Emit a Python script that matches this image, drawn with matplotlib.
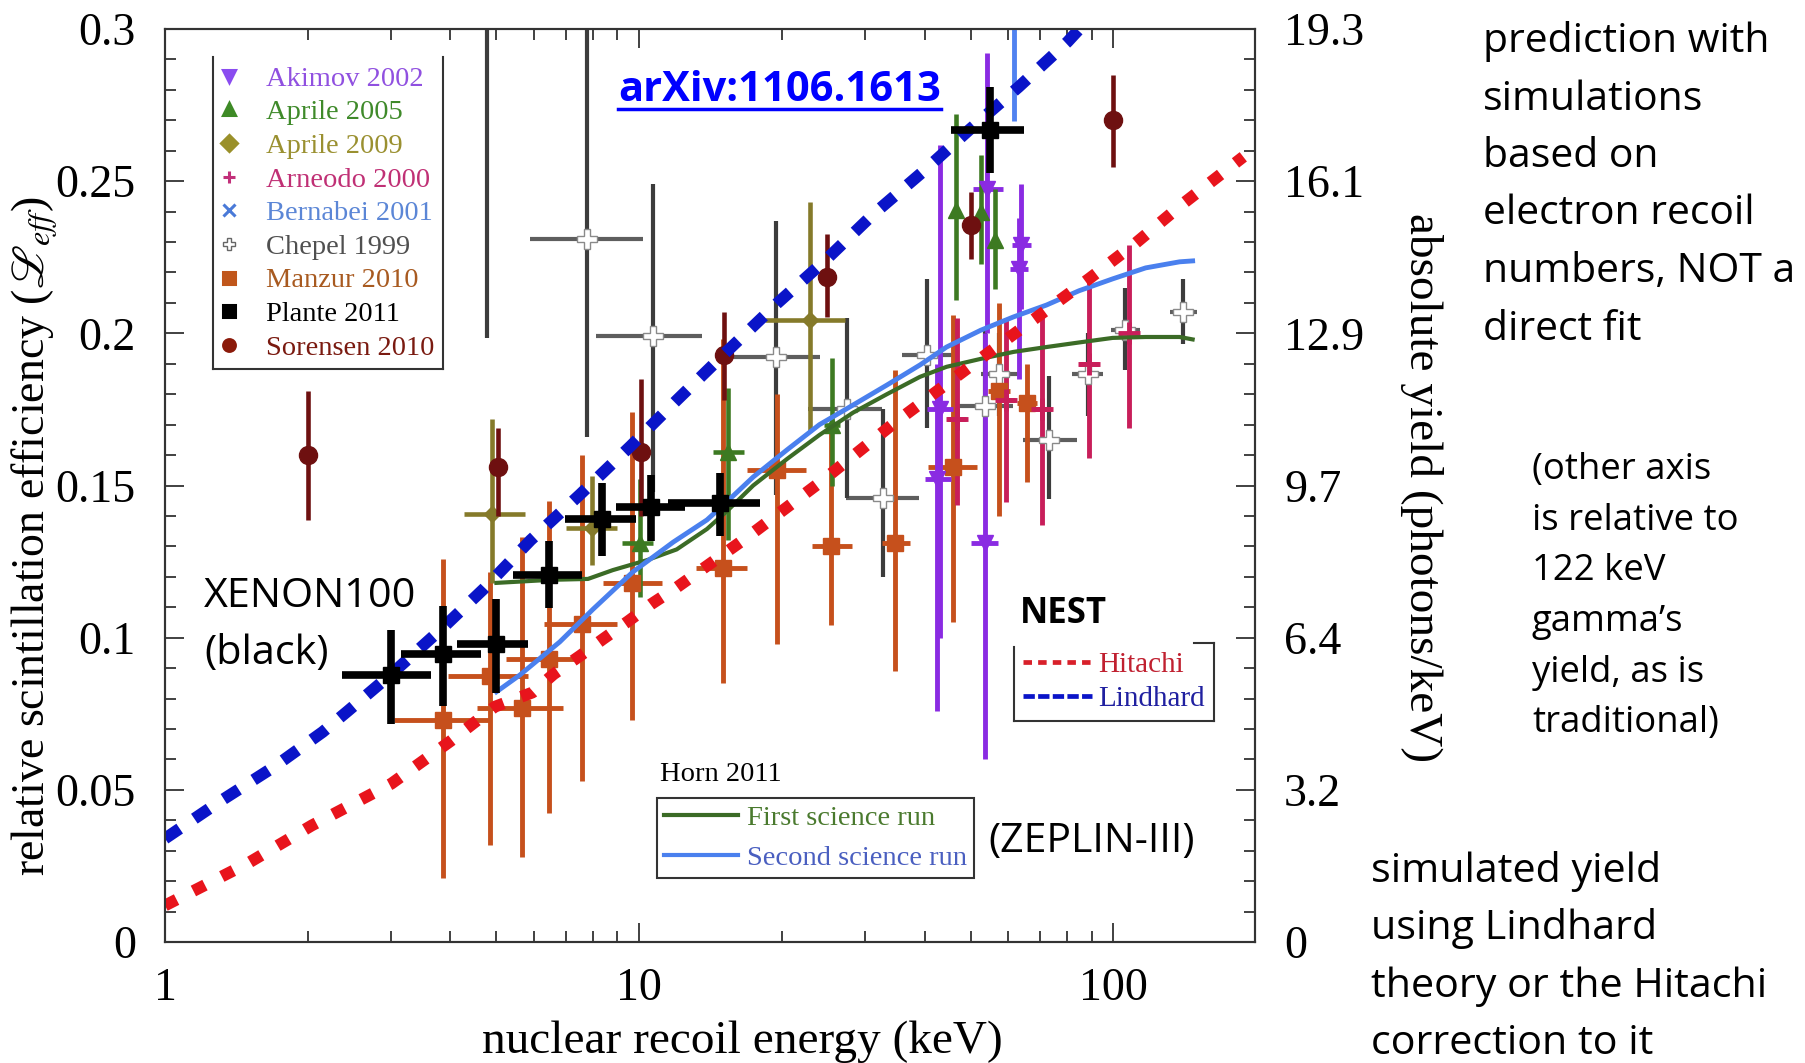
import numpy as np
import matplotlib.pyplot as plt
from matplotlib.lines import Line2D
from matplotlib.ticker import MultipleLocator, FixedLocator, NullFormatter

plt.rcParams['font.family'] = ['Liberation Serif', 'DejaVu Serif']
plt.rcParams['mathtext.fontset'] = 'stix'

W, H = 1806, 1063
SANS = ['Open Sans', 'DejaVu Sans']

# energies in keV, Leff values, lower / upper ends of the error bars

# Plante 2011 (XENON100)
plante_e = [3.0, 3.86, 4.98, 6.47, 8.35, 10.6, 14.8, 55.0]
plante_l = [0.0877, 0.0947, 0.0978, 0.1205, 0.1389, 0.1428, 0.1441, 0.2668]
plante_lo = [0.0717, 0.0777, 0.0819, 0.1097, 0.1267, 0.1316, 0.1335, 0.2527]
plante_hi = [0.1026, 0.1104, 0.1128, 0.1319, 0.1508, 0.1536, 0.154, 0.281]
plante_elo = [2.36, 3.14, 4.12, 5.41, 6.98, 8.95, 11.5, 45.5]
plante_ehi = [3.64, 4.65, 5.84, 7.57, 9.83, 12.5, 18.0, 64.9]

# Manzur 2010
manzur_e = [3.86, 4.85, 5.67, 6.47, 7.58, 9.66, 15.0, 19.5, 25.4, 34.6, 45.9, 57.5, 65.7]
manzur_l = [0.073, 0.0875, 0.077, 0.093, 0.1045, 0.118, 0.123, 0.155, 0.130, 0.131, 0.156, 0.181, 0.177]
manzur_lo = [0.021, 0.032, 0.028, 0.0425, 0.053, 0.073, 0.085, 0.098, 0.104, 0.089, 0.105, 0.14, 0.151]
manzur_hi = [0.126, 0.1215, 0.133, 0.145, 0.160, 0.174, 0.198, 0.18, 0.17, 0.188, 0.206, 0.21, 0.19]
manzur_elo = [3.04, 3.95, 4.54, 5.24, 6.3, 8.4, 13.2, 16.9, 23.2, 32.6, 40.6, 54.5, 62.5]
manzur_ehi = [4.85, 5.84, 6.9, 7.35, 8.97, 11.2, 16.9, 22.5, 28.1, 37.2, 51.5, 60.5, 69.0]

# Sorensen 2010
sorensen_e = [2.0, 5.03, 10.1, 15.1, 24.9, 50.1, 99.8]
sorensen_l = [0.160, 0.156, 0.161, 0.193, 0.2185, 0.2356, 0.270]
sorensen_lo = [0.1385, 0.140, 0.140, 0.178, 0.2054, 0.2245, 0.2547]
sorensen_hi = [0.181, 0.169, 0.185, 0.207, 0.2327, 0.2465, 0.285]

# Chepel 1999
chepel_e = [4.77, 7.78, 10.7, 19.4, 27.4, 32.7, 40.4, 53.6, 57.5, 73.2, 88.4, 105.6, 140]
chepel_l = [0.33, 0.231, 0.199, 0.1922, 0.175, 0.146, 0.193, 0.176, 0.1867, 0.165, 0.1867, 0.201, 0.207]
chepel_lo = [0.1986, 0.166, 0.148, 0.147, 0.146, 0.120, 0.169, 0.155, 0.173, 0.1456, 0.173, 0.188, 0.1966]
chepel_hi = [0.34, 0.31, 0.249, 0.237, 0.205, 0.175, 0.218, 0.202, 0.200, 0.186, 0.200, 0.215, 0.218]
chepel_elo = [4.77, 5.9, 8.1, 15.7, 22.7, 27.3, 35.9, 47.0, 52.7, 64.5, 82.0, 99.0, 132]
chepel_ehi = [4.77, 10.2, 13.6, 24.1, 32.6, 39.0, 45.6, 61.5, 63.2, 83.8, 95.2, 114, 150]

# Akimov 2002
akimov_e = [42.4, 43.1, 53.6, 54.2, 63.2, 64.0]
akimov_l = [0.152, 0.175, 0.131, 0.2475, 0.221, 0.229]
akimov_lo = [0.076, 0.10, 0.06, 0.20, 0.185, 0.208]
akimov_hi = [0.19, 0.262, 0.20, 0.292, 0.238, 0.249]
akimov_elo = [40.0, 40.5, 50.0, 50.5, 60.5, 61.0]
akimov_ehi = [45.5, 46.0, 57.0, 58.4, 66.0, 67.0]

# Aprile 2005
aprile05_e = [10.05, 15.4, 25.5, 46.6, 52.5, 56.4]
aprile05_l = [0.131, 0.161, 0.170, 0.2405, 0.240, 0.2307]
aprile05_lo = [0.1135, 0.132, 0.150, 0.211, 0.2228, 0.2146]
aprile05_hi = [0.152, 0.182, 0.192, 0.272, 0.2586, 0.2475]
aprile05_elo = [9.2, 14.3, 24.5, 46.6, 52.5, 56.4]
aprile05_ehi = [10.7, 16.6, 26.5, 46.6, 52.5, 56.4]

# Aprile 2009
aprile09_e = [4.9, 7.95, 22.9]
aprile09_l = [0.1407, 0.136, 0.2044]
aprile09_lo = [0.118, 0.124, 0.1676]
aprile09_hi = [0.172, 0.153, 0.243]
aprile09_elo = [4.28, 7.0, 18.4]
aprile09_ehi = [5.75, 8.97, 27.2]

# Arneodo 2000
arneodo_e = [46.7, 59.3, 70.8, 89.0, 108]
arneodo_l = [0.172, 0.178, 0.175, 0.19, 0.200]
arneodo_lo = [0.1436, 0.1446, 0.137, 0.159, 0.169]
arneodo_hi = [0.205, 0.205, 0.207, 0.219, 0.229]
arneodo_elo = [44.5, 56.5, 67.5, 84.5, 103]
arneodo_ehi = [49.0, 62.0, 74.0, 93.5, 113]

# Bernabei 2001 (point above the frame, only the bar shows)
bernabei_e = [61.6]
bernabei_l = [0.33]
bernabei_lo = [0.2697]
bernabei_hi = [0.34]

# NEST predictions
hitachi_e = [1, 1.5, 2.04, 3.0, 4.0, 4.96, 5.96, 6.6, 7.5, 8.4, 9.5, 10.6, 12.0, 16.9,
             24.3, 34.5, 55.5, 62, 89, 111, 140, 188]
hitachi_l = [0.012, 0.026, 0.0383, 0.052, 0.066, 0.0773, 0.082, 0.088, 0.094, 0.0996, 0.1055,
             0.111, 0.1165, 0.133, 0.1515, 0.1705, 0.1945, 0.200, 0.218, 0.2294, 0.2425, 0.258]
lindhard_e = [1, 1.3, 1.7, 2.15, 2.43, 3.0, 3.9, 4.7, 5.9, 7.5, 9.6, 12, 15.3, 19.5, 24.9,
              31.1, 39.6, 49.8, 63.2, 80.1, 86]
lindhard_l = [0.034, 0.046, 0.0576, 0.069, 0.0759, 0.088, 0.104, 0.116, 0.132, 0.147, 0.163,
              0.178, 0.194, 0.2097, 0.2245, 0.239, 0.253, 0.267, 0.281, 0.2958, 0.301]

# Horn 2011 (ZEPLIN-III)
horn1_e = [5.0, 6.5, 7.8, 8.8, 10.4, 12.0, 13.9, 15.3, 17.4, 20.5, 24.0, 28.3, 33.3, 39.1,
           44.5, 52.5, 61.6, 72.3, 84.7, 99.7, 117, 138, 147]
horn1_l = [0.118, 0.119, 0.1193, 0.1222, 0.1255, 0.129, 0.1357, 0.1415, 0.150, 0.1587, 0.1666,
           0.174, 0.180, 0.1857, 0.189, 0.1916, 0.1939, 0.1955, 0.197, 0.1985, 0.1988, 0.1988, 0.198]
horn2_e = [5.0, 5.6, 6.8, 8.0, 9.7, 11.8, 13.9, 15.3, 17.4, 20.5, 24.0, 28.3, 33.3, 39.1,
           44.5, 52.5, 61.6, 72.3, 84.7, 99.7, 117, 138, 147]
horn2_l = [0.0822, 0.0877, 0.0986, 0.1094, 0.1216, 0.1314, 0.1387, 0.1446, 0.1528, 0.1617, 0.170,
           0.1765, 0.183, 0.1896, 0.1955, 0.201, 0.2054, 0.2093, 0.214, 0.2179, 0.2215, 0.2235, 0.2238]

xticks = [1, 10, 100]
xtick_labels = ['1', '10', '100']
yticks = [0, 0.05, 0.1, 0.15, 0.2, 0.25, 0.3]
left_labels = ['0', '0.05', '0.1', '0.15', '0.2', '0.25', '0.3']
right_labels = ['0', '3.2', '6.4', '9.7', '12.9', '16.1', '19.3']


def errs(c, lo, hi):
    c = np.asarray(c, float)
    return [c - np.asarray(lo, float), np.asarray(hi, float) - c]


fig = plt.figure(figsize=(W / 100, H / 100), dpi=100)
ax = fig.add_axes([165 / W, 1 - 942 / H, 1090 / W, 913 / H])
ax.set_xscale('log')

# data sets
ax.errorbar(chepel_e, chepel_l, xerr=errs(chepel_e, chepel_elo, chepel_ehi), fmt='none',
            ecolor='#5e5e5e', elinewidth=3, zorder=2)
ax.errorbar(chepel_e, chepel_l, yerr=errs(chepel_l, chepel_lo, chepel_hi), fmt='P',
            color='#3c3c3c', mfc='white', mec='#8a8a8a', mew=1, ms=14, elinewidth=3, zorder=3)
ax.errorbar(manzur_e, manzur_l, yerr=errs(manzur_l, manzur_lo, manzur_hi),
            xerr=errs(manzur_e, manzur_elo, manzur_ehi), fmt='s', color='#c6501c', ms=11,
            elinewidth=3.5, zorder=3)
ax.errorbar(akimov_e, akimov_l, yerr=errs(akimov_l, akimov_lo, akimov_hi),
            xerr=errs(akimov_e, akimov_elo, akimov_ehi), fmt='v', color='#8a2be2', ms=12,
            elinewidth=3.5, zorder=3)
ax.errorbar(aprile05_e, aprile05_l, yerr=errs(aprile05_l, aprile05_lo, aprile05_hi),
            xerr=errs(aprile05_e, aprile05_elo, aprile05_ehi), fmt='^', color='#3d7a22', ms=12,
            elinewidth=3.3, zorder=3)
ax.errorbar(aprile09_e, aprile09_l, yerr=errs(aprile09_l, aprile09_lo, aprile09_hi),
            xerr=errs(aprile09_e, aprile09_elo, aprile09_ehi), fmt='D', color='#857a2a', ms=8,
            elinewidth=3.3, zorder=3)
ax.errorbar(arneodo_e, arneodo_l, yerr=errs(arneodo_l, arneodo_lo, arneodo_hi),
            xerr=errs(arneodo_e, arneodo_elo, arneodo_ehi), fmt='+', color='#c81e5a', ms=16,
            mew=3.5, elinewidth=3.5, zorder=3)
ax.errorbar(sorensen_e, sorensen_l, yerr=errs(sorensen_l, sorensen_lo, sorensen_hi), fmt='o',
            color='#6e1010', ms=13, elinewidth=3.3, zorder=4)
ax.errorbar(bernabei_e, bernabei_l, yerr=errs(bernabei_l, bernabei_lo, bernabei_hi), fmt='x',
            color='#5082f0', ms=12, elinewidth=3.5, zorder=4)

# curves
ax.plot(horn1_e, horn1_l, color='#3b6b26', lw=3, zorder=5)
ax.plot(horn2_e, horn2_l, color='#4a80ee', lw=3.5, zorder=5)
ax.plot(hitachi_e, hitachi_l, color='#e8141c', lw=8.5, ls=(0, (1.1, 1.6)),
        dash_capstyle='butt', zorder=6)
ax.plot(lindhard_e, lindhard_l, color='#0a14c8', lw=8.5, ls=(0, (1.5, 1.5)),
        dash_capstyle='butt', zorder=6)

ax.errorbar(plante_e, plante_l, yerr=errs(plante_l, plante_lo, plante_hi),
            xerr=errs(plante_e, plante_elo, plante_ehi), fmt='s', color='black', ms=12,
            elinewidth=5.5, zorder=8)

# axes
ax.set_xlim(1, 199)
ax.set_ylim(0, 0.3)
ax.xaxis.set_major_locator(FixedLocator(xticks))
ax.set_xticklabels(xtick_labels)
ax.xaxis.set_minor_formatter(NullFormatter())
ax.set_yticks(yticks)
ax.set_yticklabels(left_labels)
ax.yaxis.set_minor_locator(MultipleLocator(0.01))

ax2 = ax.twinx()
ax2.set_ylim(0, 0.3)
ax2.set_yticks(yticks)
ax2.set_yticklabels(right_labels)
ax2.yaxis.set_minor_locator(MultipleLocator(0.01))

for a in (ax, ax2):
    a.tick_params(which='both', direction='in', color='#333333', width=1.3)
    a.tick_params(which='major', length=13.5, labelsize=33)
    a.tick_params(which='minor', length=8)
    for s in a.spines.values():
        s.set_color('#333333')
        s.set_linewidth(1.5)
ax.tick_params(axis='x', which='both', top=True, pad=18)
ax.tick_params(axis='y', pad=21)
ax2.tick_params(axis='y', pad=21)

ax.set_xlabel('nuclear recoil energy (keV)', fontsize=34)
ax.xaxis.set_label_coords(0.530, -0.1095)
ax.xaxis.label.set_va('center')
ax.set_ylabel(r'relative scintillation efficiency ($\mathscr{L}_{eff}$)', fontsize=33)
ax.yaxis.set_label_coords(-0.1193, 0.4447)
ax.yaxis.label.set_va('center')
ax2.set_ylabel('absolute yield (photons/keV)', fontsize=34, rotation=270)
ax2.yaxis.set_label_coords(1.1532, 0.498)
ax2.yaxis.label.set_va('center')

# legend of data sets
leg_labels = ['Akimov 2002', 'Aprile 2005', 'Aprile 2009', 'Arneodo 2000', 'Bernabei 2001',
              'Chepel 1999', 'Manzur 2010', 'Plante 2011', 'Sorensen 2010']
leg_markers = ['v', '^', 'D', '+', 'x', 'P', 's', 's', 'o']
leg_colors = ['#8a4cf0', '#3e8a26', '#9a902a', '#c2307a', '#4a7ad8', '#ffffff', '#c0561b',
              '#000000', '#8b1a0a']
leg_text = ['#9050e0', '#3f8a2a', '#9a9030', '#c03075', '#5b86d6', '#505050', '#a85a20',
            '#000000', '#7a1a10']
handles = []
for m, c in zip(leg_markers, leg_colors):
    handles.append(Line2D([], [], ls='none', marker=m, color=c, mec='#666666' if m == 'P' else c,
                          mew=1 if m == 'P' else 2.2, ms=8.5))
leg1 = ax.legend(handles, leg_labels, loc='upper left', bbox_to_anchor=(0.044, 0.969),
                 borderaxespad=0, fontsize=20.5, handlelength=0.5, handletextpad=1.05,
                 labelspacing=0.27, borderpad=0.3, fancybox=False)
leg1.get_frame().set_edgecolor('none')
leg1.get_frame().set_facecolor('none')
for t, c in zip(leg1.get_texts(), leg_text):
    t.set_color(c)
ax.add_artist(leg1)

nest_handles = [Line2D([], [], color='#d8202a', lw=3.4, ls=(0, (1.8, 1.3))),
                Line2D([], [], color='#0a14c8', lw=3.4, ls=(0, (2.4, 0.7)))]
leg2 = ax.legend(nest_handles, ['Hitachi', 'Lindhard'], loc='upper left',
                 bbox_to_anchor=(0.7789, 0.3275), borderaxespad=0, fontsize=21,
                 handlelength=2.36, handletextpad=0.24, labelspacing=0.25, borderpad=0.3,
                 fancybox=False)
leg2.get_frame().set_edgecolor('none')
leg2.get_frame().set_facecolor('none')
for t, c in zip(leg2.get_texts(), ['#c02030', '#2020a0']):
    t.set_color(c)
ax.add_artist(leg2)

horn_handles = [Line2D([], [], color='#3b6b26', lw=3), Line2D([], [], color='#4a80ee', lw=3)]
leg3 = ax.legend(horn_handles, ['First science run', 'Second science run'], loc='upper left',
                 bbox_to_anchor=(0.4514, 0.1577), borderaxespad=0, fontsize=20.5,
                 handlelength=2.6, handletextpad=0.3, labelspacing=0.5, borderpad=0.25,
                 fancybox=False, edgecolor='#333333', framealpha=1)
leg3.get_frame().set_linewidth(1.5)
for t, c in zip(leg3.get_texts(), ['#4a7a2e', '#4a5fc0']):
    t.set_color(c)

# annotations
def put(s, x, y, size, **kw):
    return fig.text(x / W, 1 - y / H, s, fontsize=size, va='baseline', ha='left', **kw)


def block(lines, x, y0, step, size, **kw):
    for i, s in enumerate(lines):
        put(s, x, y0 + i * step, size, family=SANS, **kw)


put('Horn 2011', 660, 781, 20.5)
arx = put('arXiv:1106.1613', 618, 101, 30, family=SANS, weight='bold', color='#0000ff')
block(['XENON100', '(black)'], 204, 607, 57, 29.8)
put('NEST', 1020, 623, 25, family=SANS, weight='bold')
put('(ZEPLIN-III)', 988, 852, 29.5, family=SANS)
block(['prediction with', 'simulations', 'based on', 'electron recoil', 'numbers, NOT a',
       'direct fit'], 1483, 52, 57.5, 29.4)
block(['(other axis', 'is relative to', '122 keV', 'gamma\u2019s', 'yield, as is',
       'traditional)'], 1532, 479, 50.7, 26.3)
block(['simulated yield', 'using Lindhard', 'theory or the Hitachi', 'correction to it'],
      1371, 882, 57.3, 29.7)

# open-topped legend frames and the underline, drawn from measured boxes
fig.canvas.draw()
inv = fig.transFigure.inverted()


def seg(p, q, color='#333333', lw=1.5):
    (x0, y0), (x1, y1) = inv.transform([p, q])
    fig.add_artist(Line2D([x0, x1], [y0, y1], color=color, lw=lw))


b = leg1.get_frame().get_window_extent()
seg((b.x0, b.y0), (b.x0, b.y1))
seg((b.x1, b.y0), (b.x1, b.y1))
seg((b.x0, b.y0), (b.x1, b.y0))
b = leg2.get_frame().get_window_extent()
seg((b.x0, b.y0), (b.x0, b.y1 - 4))
seg((b.x1, b.y0), (b.x1, b.y1))
seg((b.x0, b.y0), (b.x1, b.y0))
seg((b.x1 - 0.1 * b.width, b.y1), (b.x1, b.y1))
b = arx.get_window_extent()
yb = H - 101 - 8
seg((b.x0, yb), (b.x1, yb), color='#0000ff', lw=2.5)

fig.savefig('out.png', dpi=100)
